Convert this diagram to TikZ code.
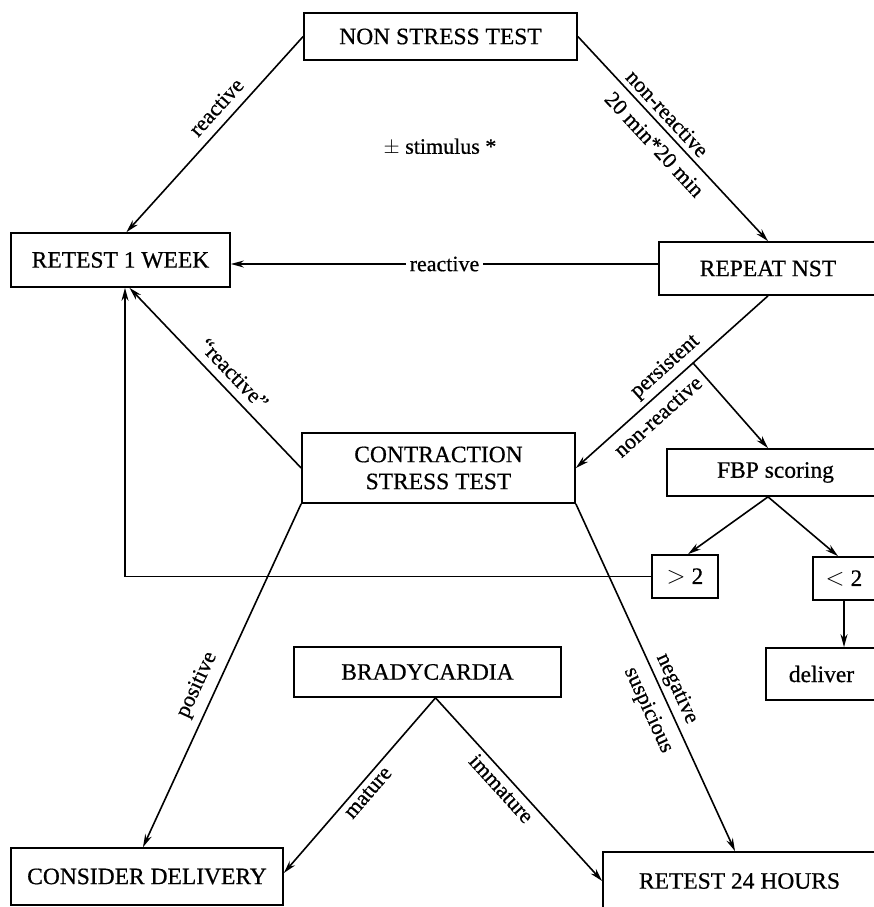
\documentclass[tikz,border=0pt]{standalone}
\usepackage{fontspec}
\setmainfont{Liberation Serif}[FakeBold=0.6]
\usetikzlibrary{arrows.meta,calc}
\begin{document}
\begin{tikzpicture}[x=1pt,y=-1pt,
 box/.style={draw,line width=1.7pt,inner sep=0pt,font=\fontsize{23.5}{27}\selectfont,align=center},
 lab/.style={font=\fontsize{22}{23}\selectfont,sloped,inner sep=2pt},
 arr/.style={line width=1.6pt,-{Stealth[length=13pt,width=7pt]}},
 ln/.style={line width=1.6pt}]
\useasboundingbox (0,0) rectangle (874,907);
\clip (0,0) rectangle (874,907);
% boxes
\node[box,minimum width=273pt,minimum height=47pt] (nst) at (440.5,36.5) {NON STRESS TEST};
\node[box,minimum width=219pt,minimum height=54pt] (r1w) at (120.5,260) {RETEST 1 WEEK};
\node[box,minimum width=218pt,minimum height=53pt] (rnst) at (768,268.5) {REPEAT NST};
\node[box,minimum width=273pt,minimum height=70pt] (cst) at (438.5,468) {CONTRACTION\\STRESS TEST};
\node[box,minimum width=217pt,minimum height=47pt] (fbp) at (775.5,472.5) {FBP scoring};
\node[box,minimum width=66pt,minimum height=43pt] (gt) at (685,576.5) {$>$ 2};
\node[box,minimum width=62pt,minimum height=43pt] (lt) at (844,578.5) {$<$ 2};
\node[box,minimum width=111pt,minimum height=52pt] (dlv) at (821.5,674) {deliver};
\node[box,minimum width=267pt,minimum height=50pt] (brady) at (427.5,672) {BRADYCARDIA};
\node[box,minimum width=272pt,minimum height=57pt] (cd) at (147,876.5) {CONSIDER DELIVERY};
\node[box,minimum width=273pt,minimum height=58pt] (r24) at (739.5,881) {RETEST 24 HOURS};
\node[font=\fontsize{22}{23}\selectfont] (stim) at (440,147) {$\pm$ stimulus *};
% connectors
\draw[arr] (nst.west) -- ([xshift=6pt]r1w.north)
  node[lab,above=7pt,pos=0.42] (l1) {reactive};
\draw[arr] (nst.east) -- (rnst.north)
  node[lab,above=3pt,pos=0.42] (l2) {non-reactive}
  node[lab,below=7pt,pos=0.47] (l3) {20 min*20 min};
\draw[arr] ([yshift=4.5pt]rnst.west) -- ([yshift=-4pt]r1w.east)
  node[font=\fontsize{22}{23}\selectfont,fill=white,inner sep=4pt,pos=0.5] (l4) {reactive};
\path (rnst.south) -- (cst.east) coordinate[pos=0.39] (br);
\draw[arr] (rnst.south) -- (cst.east)
  node[lab,above=3pt,pos=0.48] (l5) {persistent}
  node[lab,below=6pt,pos=0.63] (l6) {non-reactive};
\draw[arr] (br) -- ([xshift=-7.5pt]fbp.north);
\draw[arr] (cst.west) -- ([xshift=9pt]r1w.south)
  node[lab,above=6pt,pos=0.46] (l7) {``reactive''};
\coordinate (c1) at (125,576.5);
\draw[arr] (gt.west) -- (c1) -- ([xshift=4.5pt]r1w.south);
\draw[arr] ([xshift=-7.5pt]fbp.south) -- ([xshift=3pt]gt.north);
\draw[arr] ([xshift=-7.5pt]fbp.south) -- ([xshift=-6pt]lt.north);
\draw[arr] (lt.south) -- (lt.south |- dlv.north);
\draw[arr] (cst.south west) -- ([xshift=-4pt]cd.north)
  node[lab,above=6pt,pos=0.55] (l8) {positive};
\draw[arr] (cst.south east) -- ([xshift=-4.5pt]r24.north)
  node[lab,above=2pt,pos=0.55] (l9) {negative}
  node[lab,below=8pt,pos=0.57] (l10) {suspicious};
\draw[arr] ([xshift=8pt]brady.south) -- ([yshift=3.5pt]cd.east)
  node[lab,below=2pt,pos=0.5] (l11) {mature};
\draw[arr] ([xshift=8pt]brady.south) -- (r24.west)
  node[lab,below=2pt,pos=0.45] (l12) {immature};
\end{tikzpicture}
\end{document}
